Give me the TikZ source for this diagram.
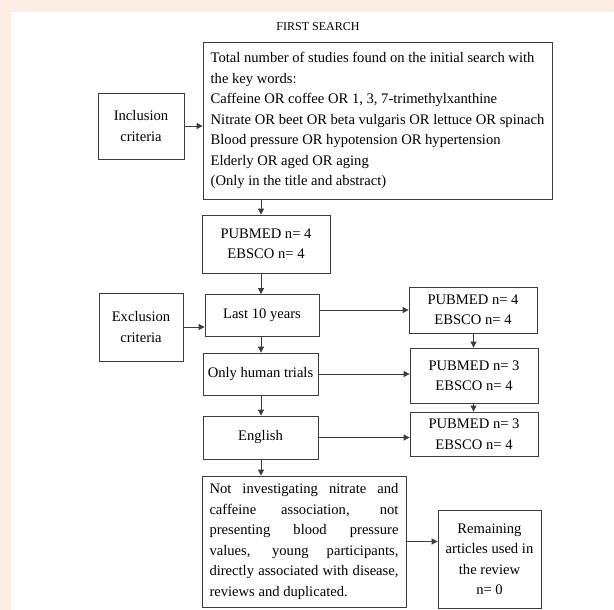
\documentclass[tikz,border=0pt]{standalone}
\usepackage{fontspec}
\setmainfont{Liberation Serif}
\usetikzlibrary{arrows.meta}
\definecolor{pagebg}{RGB}{251,237,227}
\definecolor{boxline}{RGB}{60,60,60}

\begin{document}
\begin{tikzpicture}[x=1pt,y=-1pt,
    box/.style={draw=boxline, line width=0.8pt, inner sep=0pt, align=center,
        font=\fontsize{14.6}{20.5}\selectfont},
    arr/.style={draw=boxline, line width=0.8pt, -{Triangle[length=6pt,width=6pt]}}]
        \fill[pagebg] (0,0) rectangle (614,610);
        \fill[white] (11,12) rectangle (614,610);
        \useasboundingbox (0,0) rectangle (614,610);
        \coordinate (spine) at (261,0);
        \coordinate (side) at (473.5,0);
        \node[font=\fontsize{12}{16}\selectfont] (title) at (318,27) {FIRST SEARCH};
        \node[box, align=left, minimum width=349, minimum height=157] (first) at (377.5,120.5)
            {Total number of studies found on the initial search with\\
             the key words:\\
             Caffeine OR coffee OR 1, 3, 7-trimethylxanthine\\
             Nitrate OR beet OR beta vulgaris OR lettuce OR spinach\\
             Blood pressure OR hypotension OR hypertension\\
             Elderly OR aged OR aging\\
             (Only in the title and abstract)};
        \node[box, minimum width=86, minimum height=66] (incl) at (141,126) {Inclusion\\criteria};
        \node[box, minimum width=128, minimum height=58] (db0) at (266,244) {PUBMED n= 4\\EBSCO n= 4};
        \node[box, minimum width=84, minimum height=68] (excl) at (141,327) {Exclusion\\criteria};
        \node[box, minimum width=114, minimum height=42] (last10) at (262,315.5) {Last 10 years};
        \node[box, minimum width=115, minimum height=42] (human) at (260.5,374) {Only human trials};
        \node[box, minimum width=115, minimum height=43] (english) at (260.5,437.5) {English};
        \node[box, minimum width=128, minimum height=46] (db1) at (473,310) {PUBMED n= 4\\EBSCO n= 4};
        \node[box, minimum width=128, minimum height=55] (db2) at (474,375.5) {PUBMED n= 3\\EBSCO n= 4};
        \node[box, minimum width=128, minimum height=44] (db3) at (474,434) {PUBMED n= 3\\EBSCO n= 4};
        \node[box, align=justify, text width=189, minimum height=131, inner xsep=7.5] (reasons) at (304,541.5)
            {Not investigating nitrate and\linebreak
             caffeine association, not\linebreak
             presenting blood pressure\linebreak
             values, young participants,\linebreak
             directly associated with disease,\linebreak
             reviews and duplicated.};
        \node[box, minimum width=103, minimum height=98] (remain) at (489.5,559)
            {Remaining\\articles used in\\the review\\n= 0};
        \draw[arr] (incl.east) -- (incl.east -| first.west);
        \draw[arr] (first.south -| spine) -- (db0.north -| spine);
        \draw[arr] (db0.south -| spine) -- (last10.north -| spine);
        \draw[arr] (last10.south -| spine) -- (human.north -| spine);
        \draw[arr] (human.south -| spine) -- (english.north -| spine);
        \draw[arr] (english.south -| spine) -- (reasons.north -| spine);
        \draw[arr] (excl.east) -- (excl.east -| last10.west);
        \draw[arr] (last10.east |- db1) -- (db1.west);
        \draw[arr] (human.east) -- (human.east -| db2.west);
        \draw[arr] (english.east) -- (english.east -| db3.west);
        \draw[arr] (db1.south -| side) -- (db2.north -| side);
        \draw[arr] (db2.south -| side) -- (db3.north -| side);
        \draw[arr] (reasons.east) -- (reasons.east -| remain.west);
    \end{tikzpicture}
\end{document}
